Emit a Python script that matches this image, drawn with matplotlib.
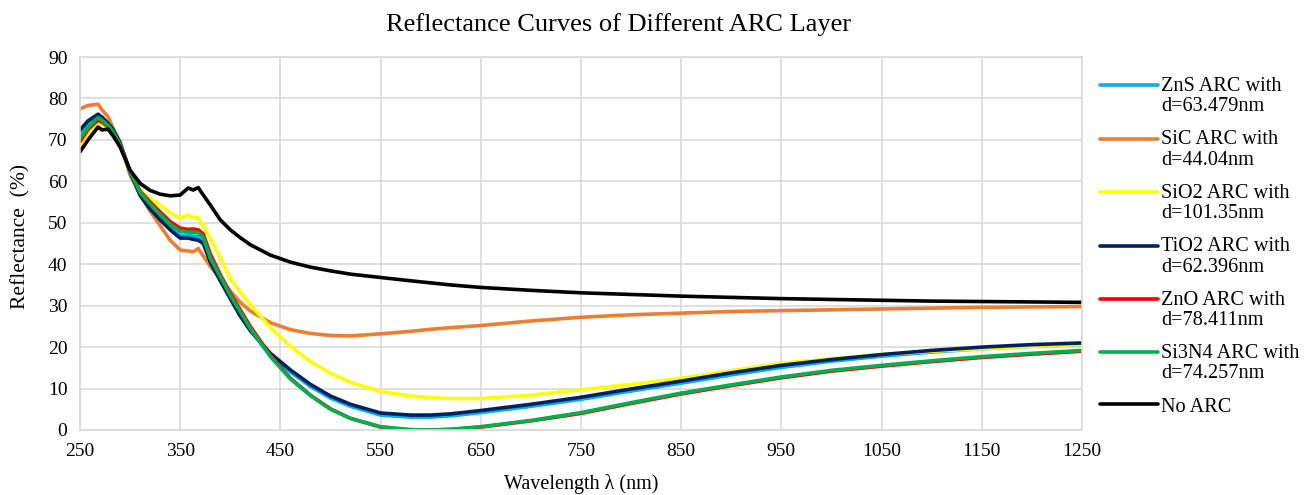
import numpy as np
import matplotlib
matplotlib.use("Agg")
import matplotlib.pyplot as plt
from matplotlib.legend_handler import HandlerLine2D

plt.rcParams["font.family"] = ["Liberation Serif", "DejaVu Serif"]

# wavelength grid (nm)
WL = [250, 258, 268, 272, 278, 283, 290, 300, 310, 320, 330, 340, 350, 358, 363,
      368, 373, 380, 390, 400, 410, 420, 440, 460, 480, 500, 520, 550, 580, 600,
      620, 650, 700, 750, 800, 850, 900, 950, 1000, 1050, 1100, 1150, 1200, 1250]

ZNS = [71.8, 74.2, 75.8, 75.2, 73.8, 72.2, 69.0, 62.3, 57.0, 54.0, 51.5, 49.0, 47.0, 47.0, 46.8,
       46.6, 45.6, 41.0, 36.3, 31.8, 27.5, 24.0, 18.2, 14.0, 10.5, 7.7, 5.7, 3.6, 3.1, 3.1,
       3.4, 4.2, 5.7, 7.4, 9.4, 11.3, 13.3, 15.1, 16.6, 17.8, 18.8, 19.6, 20.2, 20.6]
SIC = [77.5, 78.3, 78.6, 77.2, 75.6, 72.8, 69.5, 61.5, 56.8, 52.8, 49.3, 45.8, 43.4, 43.2, 43.0,
       43.8, 42.0, 39.5, 36.5, 33.5, 30.8, 28.7, 25.9, 24.2, 23.3, 22.8, 22.7, 23.2, 23.8, 24.3,
       24.7, 25.2, 26.3, 27.2, 27.8, 28.2, 28.6, 28.8, 29.0, 29.2, 29.4, 29.6, 29.7, 29.8]
SIO2 = [68.0, 71.5, 74.4, 73.8, 72.8, 71.5, 68.8, 62.5, 57.8, 55.8, 54.3, 52.4, 51.1, 51.9, 51.2,
        51.2, 49.3, 46.3, 41.5, 36.5, 33.3, 30.3, 24.7, 20.2, 16.5, 13.7, 11.5, 9.3, 8.2, 7.8,
        7.6, 7.6, 8.4, 9.7, 11.0, 12.5, 14.3, 16.1, 17.2, 18.2, 19.0, 19.6, 20.2, 20.6]
TIO2 = [72.4, 74.6, 76.2, 75.5, 74.0, 72.5, 69.3, 62.3, 56.6, 53.3, 50.7, 48.3, 46.3, 46.3, 46.0,
        45.8, 45.0, 40.5, 36.0, 31.7, 27.5, 24.0, 18.5, 14.5, 11.0, 8.2, 6.2, 4.1, 3.6, 3.6,
        3.9, 4.7, 6.2, 7.9, 9.9, 11.8, 13.8, 15.6, 17.0, 18.2, 19.2, 20.0, 20.6, 21.0]
ZNO = [69.6, 72.5, 74.8, 74.3, 73.2, 71.8, 68.7, 62.5, 57.6, 55.0, 52.6, 50.3, 48.7, 48.4, 48.5,
       48.3, 47.3, 42.5, 37.5, 33.0, 29.0, 25.0, 18.0, 12.5, 8.4, 5.1, 2.8, 0.7, 0.0, 0.0,
       0.1, 0.7, 2.2, 4.0, 6.4, 8.7, 10.7, 12.6, 14.2, 15.4, 16.5, 17.5, 18.3, 19.0]
SI3N4 = [70.4, 73.0, 75.4, 74.8, 73.5, 72.0, 68.9, 62.4, 57.3, 54.5, 52.0, 49.6, 48.0, 47.8, 47.7,
         47.6, 46.5, 41.5, 37.0, 32.5, 28.5, 24.5, 17.7, 12.3, 8.3, 5.0, 2.8, 0.8, 0.1, 0.0,
         0.2, 0.8, 2.3, 4.2, 6.6, 8.9, 10.9, 12.8, 14.4, 15.6, 16.7, 17.7, 18.5, 19.2]
NO_ARC = [67.1, 70.0, 73.1, 72.4, 72.6, 71.0, 68.3, 62.7, 59.5, 57.8, 56.9, 56.5, 56.7, 58.4, 57.9,
          58.5, 56.7, 54.3, 50.7, 48.3, 46.4, 44.7, 42.2, 40.5, 39.3, 38.4, 37.6, 36.8, 36.0, 35.5,
          35.0, 34.4, 33.7, 33.1, 32.7, 32.3, 32.0, 31.7, 31.5, 31.3, 31.1, 31.0, 30.9, 30.8]

SERIES = [
    ("ZnS ARC with\nd=63.479nm", ZNS, "#00B0F0"),
    ("SiC ARC with\nd=44.04nm", SIC, "#ED7D31"),
    ("SiO2 ARC with\nd=101.35nm", SIO2, "#FFFF00"),
    ("TiO2 ARC with\nd=62.396nm", TIO2, "#002060"),
    ("ZnO ARC with\nd=78.411nm", ZNO, "#FF0000"),
    ("Si3N4 ARC with\nd=74.257nm", SI3N4, "#00B050"),
    ("No ARC", NO_ARC, "#000000"),
]


class TopLine(HandlerLine2D):
    # put the legend line level with the first text row (Excel style)
    def create_artists(self, legend, orig_handle, xdescent, ydescent, width, height, fontsize, trans):
        arts = super().create_artists(legend, orig_handle, xdescent, ydescent, width, height, fontsize, trans)
        for a in arts:
            a.set_ydata(np.asarray(a.get_ydata()) + 0.55 * fontsize)
        return arts


fig = plt.figure(figsize=(13.09, 4.95), dpi=100)
ax = fig.add_axes([80 / 1309, 1 - 430 / 495, 1002 / 1309, 373 / 495])

handles = []
for label, vals, c in SERIES:
    ln, = ax.plot(WL, vals, color=c, lw=2.6, label=label,
                  solid_joinstyle="round", solid_capstyle="round")
    handles.append(ln)

ax.set_xlim(250, 1250)
ax.set_ylim(0, 90)
ax.set_xticks(np.arange(250, 1251, 100))
ax.set_yticks(np.arange(0, 91, 10))
ax.grid(True, color="#D9D9D9", lw=1.2)
ax.set_axisbelow(True)
for s in ax.spines.values():
    s.set_color("#D9D9D9")
    s.set_linewidth(1.2)
ax.tick_params(length=0, labelsize=14, pad=9)

ax.set_xlabel("Wavelength λ (nm)", fontsize=14.5, va="center")
ax.xaxis.set_label_coords(0.5, (430 - 484) / 373)
ax.set_ylabel("Reflectance  (%)", fontsize=15.5, va="center")
ax.yaxis.set_label_coords((21 - 80) / 1002, 0.52)

fig.suptitle("Reflectance Curves of Different ARC Layer", x=619 / 1309, y=1 - 25 / 495,
             va="center", fontsize=19)

hmap = {h: TopLine() for h in handles[:-1]}
leg = fig.legend(handles=handles, loc="upper left", bbox_to_anchor=(1100 / 1309, 1 - 77 / 495),
                 frameon=False, fontsize=14.6, handlelength=2.85, handletextpad=0.15,
                 labelspacing=0.69, borderpad=0, borderaxespad=0, handler_map=hmap)
for t in leg.get_texts():
    t.set_linespacing(1.1)

fig.savefig("out.png", dpi=100)
